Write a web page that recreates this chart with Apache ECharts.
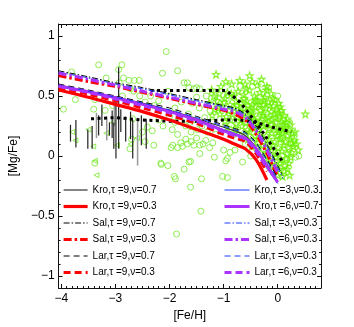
<!DOCTYPE html>
<html><head><meta charset="utf-8">
<script src="https://cdn.jsdelivr.net/npm/echarts@6/dist/echarts.min.js"></script>
<style>html,body{margin:0;padding:0;background:#fff}#c{width:354px;height:327px}</style>
</head><body><div id="c"></div>
<script>
// ---------- tick labels ----------
const xMajorTicks = [-4, -3, -2, -1, 0];
const yMajorTicks = [-1, -0.5, 0, 0.5, 1];

// ---------- model curves ([Fe/H] grid and [Mg/Fe] per model) ----------
const modelX = [-4.05, -3.5, -3.0, -2.5, -2.0, -1.5, -1.0, -0.8, -0.6, -0.4, -0.2, 0.0, 0.1];
const kro9_07 = [0.59, 0.54, 0.49, 0.44, 0.38, 0.31, 0.24, 0.21, 0.17, 0.07, -0.07, -0.21, null];
const kro9_03 = [0.55, 0.49, 0.43, 0.37, 0.30, 0.22, 0.14, 0.10, 0.06, -0.03, -0.20, null, null];
const sal9_07 = [0.71, 0.66, 0.61, 0.57, 0.52, 0.47, 0.42, 0.40, 0.35, 0.25, 0.10, -0.08, -0.17];
const sal9_03 = [0.67, 0.62, 0.58, 0.53, 0.48, 0.43, 0.38, 0.35, 0.30, 0.18, 0.02, -0.17, null];
const lar9_07 = [0.60, 0.55, 0.50, 0.45, 0.40, 0.33, 0.26, 0.23, 0.20, 0.11, -0.03, -0.18, null];
const lar9_03 = [0.57, 0.515, 0.46, 0.40, 0.34, 0.27, 0.18, 0.15, 0.12, 0.02, -0.13, null, null];
const kro3_03 = [0.58, 0.53, 0.48, 0.43, 0.37, 0.30, 0.22, 0.19, 0.15, 0.05, -0.10, -0.23, null];
const kro6_07 = [0.585, 0.535, 0.485, 0.43, 0.37, 0.30, 0.21, 0.18, 0.15, 0.06, -0.08, -0.22, null];
const sal3_03 = [0.70, 0.65, 0.60, 0.56, 0.51, 0.46, 0.41, 0.39, 0.34, 0.23, 0.08, -0.10, -0.19];
const sal6_03 = [0.69, 0.64, 0.59, 0.54, 0.49, 0.44, 0.39, 0.37, 0.32, 0.21, 0.05, -0.14, null];
const lar3_03 = [0.59, 0.54, 0.49, 0.44, 0.385, 0.32, 0.25, 0.22, 0.19, 0.10, -0.04, -0.20, null];
const lar6_03 = [0.58, 0.53, 0.475, 0.42, 0.36, 0.29, 0.20, 0.17, 0.14, 0.04, -0.10, null, null];

// ---------- thick dotted reference curves ----------
const dotUpperX = [-2.35, -1.5, -0.95, -0.7, -0.4, -0.1, 0.08];
const dotUpperY = [0.545, 0.545, 0.545, 0.45, 0.28, 0.08, -0.04];
const dotLowerX = [-3.45, -3.0, -2.5, -2.0, -1.5, -1.0, -0.7, -0.4, -0.1, 0.25];
const dotLowerY = [0.31, 0.32, 0.30, 0.29, 0.29, 0.30, 0.30, 0.28, 0.24, 0.20];

// ---------- error bars (x, low, high) ----------
const errBlackX  = [-3.83, -3.73, -3.51, -3.43, -3.31, -3.25, -3.11, -3.06, -3.03, -2.99, -2.94, -2.90, -2.81, -2.72, -2.68, -2.52, -2.43];
const errBlackLo = [0.12, 0.07, 0.06, 0.06, 0.17, 0.25, 0.17, 0.15, 0.06, -0.02, 0.06, 0.20, 0.12, 0.14, -0.02, 0.09, 0.06];
const errBlackHi = [0.26, 0.30, 0.22, 0.25, 0.34, 0.43, 0.28, 0.38, 0.28, 0.50, 0.74, 0.39, 0.33, 0.37, 0.30, 0.34, 0.31];
const errGreyX  = [-3.35, -3.16, -3.02, -2.59];
const errGreyLo = [0.15, 0.13, 0.25, -0.08];
const errGreyHi = [0.36, 0.33, 0.45, 0.31];

// ---------- green triangles ----------
const triX = [-3.80, -3.74, -3.41, -3.38, -3.35, -3.17, -2.97, -2.72, -3.05, -3.50, -2.60];
const triY = [0.20, 0.13, 0.08, -0.04, -0.16, 0.19, 0.09, 0.10, 0.28, 0.22, 0.15];

// ---------- green open circles ----------
const circX = [-3.96,-3.81,-3.74,-3.31,-3.38,-3.40,-3.17,-2.94,-2.88,-2.85,-2.93,-2.75,-2.65,-2.56,-2.72,-2.06,-2.13,-1.85,-1.73,-1.67,-1.64,-1.55,-1.50,-1.44,-1.32,-1.50,-2.03,-2.20,
  -2.66,-2.55,-2.87,-3.19,-3.05,-2.45,-2.35,-2.28,
  -2.68,-2.70,-2.73,-2.41,-2.32,-2.20,-2.12,-2.29,-2.50,-2.45,-2.15,-2.03,-2.16,-3.38,
  -1.97,-1.85,-1.76,-1.94,-1.79,-1.67,-1.60,-1.55,-1.44,-1.33,-1.20,-1.44,-1.61,-1.64,-1.73,-1.91,-1.89,-1.41,-1.61,-1.42,-1.87,-1.26,-1.17,-0.93,-1.02,-0.93,-0.96,-0.88,-0.79,
  -1.95,-1.85,-1.80,-1.70,-1.65,-1.60,-1.55,-1.50,-1.45,-1.40,-1.35,-1.30,-1.25,-1.20,-1.15,-1.10,-1.90,-1.78,-1.70,-1.58,-1.48,-1.38,-1.22,-2.00,-1.90,-1.62,
  -0.90,-0.70,-0.60,-0.50,-0.40,-0.30,-0.17,-0.26,0.00,0.10,0.22,0.13,0.39,0.33,0.25,-0.10,0.30,-0.80,-1.00,-0.65];
const circY = [0.39,0.70,0.47,0.76,0.47,0.39,0.65,0.72,0.76,0.65,0.61,0.63,0.63,0.63,0.56,0.87,0.69,0.71,0.61,0.61,0.57,0.56,0.57,0.56,0.50,0.49,0.54,0.46,
  0.54,0.50,0.50,0.38,0.42,0.45,0.50,0.42,
  0.31,0.14,0.06,0.24,0.21,0.30,0.25,0.09,0.20,0.12,-0.07,-0.08,-0.06,-0.06,
  0.07,0.07,0.08,0.09,0.11,0.10,0.12,0.09,0.09,0.13,0.11,0.02,-0.045,-0.05,-0.11,-0.17,-0.19,-0.19,-0.26,-0.46,-0.65,0.07,-0.01,-0.02,-0.17,-0.18,-0.04,0.03,0.05,
  0.22,0.18,0.30,0.25,0.35,0.20,0.30,0.15,0.40,0.25,0.32,0.20,0.38,0.28,0.18,0.45,0.40,0.45,0.14,0.44,0.22,0.10,0.48,0.33,0.28,0.28,
  0.50,0.58,0.10,0.00,0.45,0.60,0.57,0.53,0.50,0.30,0.28,0.25,0.00,-0.01,0.10,-0.05,0.15,0.20,0.05,-0.05];

// ---------- green stars ----------
const starX = [-1.14,-0.96,-0.52,-0.47,-0.30,-0.20,-0.85,-0.70,-0.60,-0.38,-1.05,-1.22,
  -1.18,-1.08,-0.93,-0.81,-0.73,-0.63,-0.52,-0.43,-0.33,-0.24,-0.12,-0.05,
  -1.27,-1.12,-0.99,-0.88,-0.77,-0.68,-0.57,-0.47,-0.37,-0.27,-0.17,-0.08,0.02,
  -1.16,-1.03,-0.90,-0.80,-0.71,-0.61,-0.52,-0.42,-0.32,-0.22,-0.12,-0.02,0.07,
  -1.21,-1.07,-0.95,-0.84,-0.74,-0.65,-0.55,-0.46,-0.37,-0.27,-0.17,-0.07,0.03,0.12,
  -0.98,-0.87,-0.77,-0.68,-0.59,-0.50,-0.41,-0.32,-0.22,-0.12,-0.03,0.07,0.16,
  -0.93,-0.79,-0.66,-0.56,-0.46,-0.36,-0.26,-0.16,-0.06,0.04,0.13,0.21,
  -0.74,-0.62,-0.52,-0.42,-0.31,-0.21,-0.11,-0.01,0.09,0.18,0.27,
  -0.55,-0.45,-0.36,-0.26,-0.16,-0.06,0.04,0.14,0.23,0.31,
  -0.48,-0.38,-0.29,-0.19,-0.09,0.01,0.11,0.20,0.29,
  -0.31,-0.21,-0.12,-0.02,0.08,0.17,0.26,
  -0.24,-0.14,-0.04,0.06,0.15,0.24,
  -0.16,-0.06,0.04,0.13,0.21,
  -0.08,0.03,0.12,0.18,
  0.00,0.09,0.22,
  0.51,0.35,0.38,0.32,
  -0.98,-0.62,-0.41,-0.26,-0.09,0.05,-0.75,-0.55,-0.33,-0.15,0.02,0.18,-0.68,-0.48,-0.27,-0.04,0.10,0.24,-0.44,-0.22,0.01,0.15,-0.35,-0.12,0.07,0.26,-0.86,-1.1,-0.58,-0.2];
const starY = [0.68,0.62,0.67,0.62,0.64,0.58,0.60,0.63,0.60,0.59,0.58,0.55,
  0.50,0.52,0.53,0.50,0.54,0.51,0.55,0.50,0.53,0.49,0.52,0.47,
  0.44,0.46,0.45,0.43,0.46,0.44,0.46,0.43,0.46,0.43,0.45,0.42,0.44,
  0.39,0.41,0.38,0.40,0.37,0.40,0.38,0.41,0.38,0.40,0.37,0.39,0.38,
  0.34,0.35,0.33,0.35,0.32,0.35,0.33,0.35,0.32,0.34,0.32,0.35,0.33,0.34,
  0.29,0.30,0.27,0.30,0.28,0.30,0.27,0.29,0.27,0.30,0.28,0.29,0.28,
  0.24,0.23,0.25,0.22,0.24,0.22,0.25,0.23,0.24,0.22,0.24,0.22,
  0.19,0.18,0.20,0.17,0.19,0.17,0.19,0.17,0.19,0.17,0.19,
  0.14,0.12,0.14,0.12,0.14,0.12,0.14,0.12,0.14,0.13,
  0.08,0.07,0.09,0.07,0.09,0.07,0.09,0.07,0.08,
  0.03,0.02,0.04,0.02,0.04,0.02,0.03,
  -0.02,-0.03,-0.01,-0.03,-0.02,-0.01,
  -0.07,-0.08,-0.06,-0.08,-0.06,
  -0.12,-0.11,-0.13,-0.11,
  -0.16,-0.17,-0.16,
  0.35,0.10,0.05,0.20,
  0.48,0.48,0.47,0.47,0.48,0.41,0.42,0.42,0.43,0.42,0.36,0.31,0.37,0.37,0.36,0.32,0.26,0.26,0.30,0.31,0.20,0.21,0.25,0.26,0.15,0.11,0.52,0.40,0.56,0.55];

// ---------- build ----------
const FONT = "'Liberation Sans', Arial, Helvetica, sans-serif";
const pairs = (xs, ys) => xs.map((x, i) => [x, ys[i]]).filter(p => p[1] !== null);
const minus = v => String(v).replace('-', '\u2212');

const green = '#74e82a';
const starGreen = '#6cf000';
const BLUE = '#1a3cff', PURPLE = '#aa33ff', RED = '#ff0000', BLACK = '#000000', GREY = '#333333';
const DASHDOT = [6, 2, 1.5, 2], DASHDOT_T = [8, 3, 2.5, 3], DASH = [6, 4], DASH_T = [7, 4];

const models = [
  {name: 'Kro,τ =9,ν=0.7', y: kro9_07, color: GREY,   width: 1.2, type: 'solid'},
  {name: 'Kro,τ =9,ν=0.3', y: kro9_03, color: RED,    width: 3.2, type: 'solid'},
  {name: 'Sal,τ =9,ν=0.7', y: sal9_07, color: BLACK,  width: 1,   type: DASHDOT},
  {name: 'Sal,τ =9,ν=0.3', y: sal9_03, color: RED,    width: 3,   type: DASHDOT_T},
  {name: 'Lar,τ =9,ν=0.7', y: lar9_07, color: BLACK,  width: 1,   type: DASH},
  {name: 'Lar,τ =9,ν=0.3', y: lar9_03, color: RED,    width: 3,   type: DASH_T},
  {name: 'Kro,τ =3,ν=0.3', y: kro3_03, color: BLUE,   width: 1,   type: 'solid'},
  {name: 'Kro,τ =6,ν=0.7', y: kro6_07, color: PURPLE, width: 3,   type: 'solid'},
  {name: 'Sal,τ =3,ν=0.3', y: sal3_03, color: BLUE,   width: 1,   type: DASHDOT},
  {name: 'Sal,τ =6,ν=0.3', y: sal6_03, color: PURPLE, width: 3,   type: DASHDOT_T},
  {name: 'Lar,τ =3,ν=0.3', y: lar3_03, color: BLUE,   width: 1,   type: DASH},
  {name: 'Lar,τ =6,ν=0.3', y: lar6_03, color: PURPLE, width: 3,   type: DASH_T}
];

const xMinor = [], yMinor = [];
for (let k = -40; k <= 8; k++) xMinor.push(k / 10);
for (let k = -11; k <= 11; k++) yMinor.push(k / 10);

const X_MIN = -4.05, X_MAX = 0.8, Y_MIN = -1.1, Y_MAX = 1.1;
const axLine = {show: true, onZero: false, lineStyle: {color: '#111', width: 1}};
const noLine = {show: false, onZero: false};
function xAx(pos, major) {
  return {type: 'value', min: X_MIN, max: X_MAX, position: pos, gridIndex: 0,
    axisLine: major ? axLine : noLine,
    axisTick: {show: true, inside: true, length: major ? 4 : 2, customValues: major ? xMajorTicks : xMinor, lineStyle: {color: '#111'}},
    axisLabel: (major && pos === 'bottom') ? {show: true, customValues: xMajorTicks, formatter: minus, fontSize: 12, color: '#000', fontFamily: FONT, margin: 5} : {show: false},
    splitLine: {show: false},
    name: (major && pos === 'bottom') ? '[Fe/H]' : '', nameLocation: 'middle', nameGap: 22,
    nameTextStyle: {fontSize: 12, color: '#000', fontFamily: FONT}};
}
function yAx(pos, major) {
  return {type: 'value', min: Y_MIN, max: Y_MAX, position: pos, gridIndex: 0,
    axisLine: major ? axLine : noLine,
    axisTick: {show: true, inside: true, length: major ? 4 : 2, customValues: major ? yMajorTicks : yMinor, lineStyle: {color: '#111'}},
    axisLabel: (major && pos === 'left') ? {show: true, customValues: yMajorTicks, formatter: minus, fontSize: 12, color: '#000', fontFamily: FONT, margin: 4} : {show: false},
    splitLine: {show: false},
    name: (major && pos === 'left') ? '[Mg/Fe]' : '', nameLocation: 'middle', nameGap: 28,
    nameTextStyle: {fontSize: 12, color: '#000', fontFamily: FONT}};
}

const STAR = 'path://M0,-10 L2.35,-3.24 L9.51,-3.09 L3.8,1.24 L5.88,8.09 L0,4 L-5.88,8.09 L-3.8,1.24 L-9.51,-3.09 L-2.35,-3.24 Z';

function errSeries(xs, los, his, color, w) {
  return {type: 'custom', xAxisIndex: 0, yAxisIndex: 0, z: 3, silent: true,
    data: xs.map((x, i) => [x, los[i], his[i]]),
    renderItem: (params, api) => {
      const p1 = api.coord([api.value(0), api.value(1)]);
      const p2 = api.coord([api.value(0), api.value(2)]);
      return {type: 'line', shape: {x1: p1[0], y1: p1[1], x2: p2[0], y2: p2[1]}, style: {stroke: color, lineWidth: w}};
    }};
}

const series = [
  {type: 'scatter', name: 'circles', data: pairs(circX, circY), symbol: 'circle', symbolSize: 6, z: 2,
    itemStyle: {color: 'rgba(0,0,0,0)', borderColor: green, borderWidth: 1}},
  {type: 'scatter', name: 'stars', data: pairs(starX, starY), symbol: STAR, symbolSize: 7, z: 2,
    itemStyle: {color: 'rgba(0,0,0,0)', borderColor: starGreen, borderWidth: 1.2}},
  {type: 'scatter', name: 'tri', data: pairs(triX, triY), symbol: 'triangle', symbolRotate: 90, symbolSize: 5, z: 2,
    itemStyle: {color: 'rgba(0,0,0,0)', borderColor: green, borderWidth: 1}},
  errSeries(errGreyX, errGreyLo, errGreyHi, '#9a9a9a', 1.5),
  errSeries(errBlackX, errBlackLo, errBlackHi, '#222222', 1.2),
  {type: 'line', name: 'dotU', data: pairs(dotUpperX, dotUpperY), showSymbol: false, symbol: 'none', z: 4,
    lineStyle: {color: '#000', width: 3, type: [3, 3.5]}},
  {type: 'line', name: 'dotL', data: pairs(dotLowerX, dotLowerY), showSymbol: false, symbol: 'none', z: 4,
    lineStyle: {color: '#000', width: 3, type: [3, 3.5]}}
];
models.forEach(m => series.push({
  type: 'line', name: m.name, data: pairs(modelX, m.y), symbol: 'none', showSymbol: false, z: 5,
  smooth: 0.3, connectNulls: false,
  lineStyle: {color: m.color, width: m.width, type: m.type}, itemStyle: {color: m.color}
}));

function legendData(list) {
  return list.map(m => ({name: m.name,
    itemStyle: {color: 'rgba(0,0,0,0)', borderColor: 'rgba(0,0,0,0)', borderWidth: 0, opacity: 0},
    lineStyle: {color: m.color, width: m.width, type: m.type}}));
}
const legendCommon = {orient: 'vertical', itemHeight: 10, itemGap: 6.5, selectedMode: false,
  itemStyle: {color: 'rgba(0,0,0,0)', borderColor: 'rgba(0,0,0,0)', borderWidth: 0, opacity: 0},
  textStyle: {fontSize: 10, color: '#000', fontFamily: FONT}, backgroundColor: 'rgba(0,0,0,0)'};

const chart = echarts.init(document.getElementById('c'), null, {renderer: 'canvas'});
chart.setOption({
  animation: false,
  backgroundColor: '#fff',
  grid: {left: 46, right: 33, top: 24, bottom: 37, containLabel: false},
  xAxis: [xAx('bottom', true), xAx('bottom', false), xAx('top', true), xAx('top', false)],
  yAxis: [yAx('left', true), yAx('left', false), yAx('right', true), yAx('right', false)],
  legend: [
    Object.assign({left: 57, top: 180, itemWidth: 24, data: legendData(models.slice(0, 6))}, legendCommon),
    Object.assign({left: 218, top: 180, itemWidth: 25, data: legendData(models.slice(6))}, legendCommon)
  ],
  series: series
});
</script></body></html>
